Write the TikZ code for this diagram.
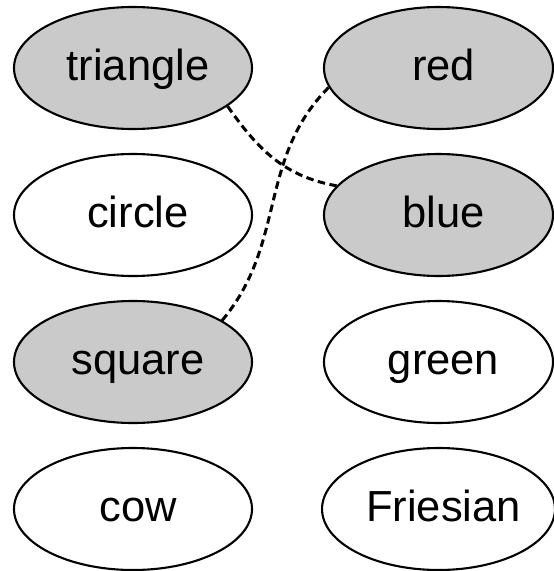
\documentclass[tikz,border=0pt]{standalone}
\usepackage{fontspec}
\setmainfont{Liberation Sans}
\usetikzlibrary{shapes.geometric}
\definecolor{shade}{RGB}{202,202,202}
\begin{document}
\begin{tikzpicture}[x=1pt,y=1pt,
  oval/.style={ellipse, draw=black, line width=2.1pt, inner sep=0pt,
    font=\fontsize{43.5}{50}\selectfont, text height=33pt, text depth=9pt,
    execute at begin node=\hspace*{10pt}},
  leftoval/.style={oval, minimum width=238pt, minimum height=122pt},
  rightoval/.style={oval, minimum width=229pt, minimum height=122pt},
  marked/.style={fill=shade},
  link/.style={draw=black, line width=3pt, dash pattern=on 7.5pt off 4.5pt}]
\useasboundingbox (0,0) rectangle (554,-571);
\node[leftoval, marked] (triangle) at (133,-68) {triangle};
\node[leftoval] (circle) at (133,-215) {circle};
\node[leftoval, marked] (square) at (133,-362) {square};
\node[leftoval] (cow) at (133,-509) {cow};
\node[rightoval, marked] (red) at (438.5,-68) {red};
\node[rightoval, marked] (blue) at (438.5,-215) {blue};
\node[rightoval] (green) at (438.5,-362) {green};
\node[rightoval] (friesian) at (438.5,-509) {Friesian};
\draw[link] (triangle.-22) to[out=-55,in=170] (blue.164);
\draw[link] (square.25) to[out=50,in=225] (red.190);
\end{tikzpicture}
\end{document}
